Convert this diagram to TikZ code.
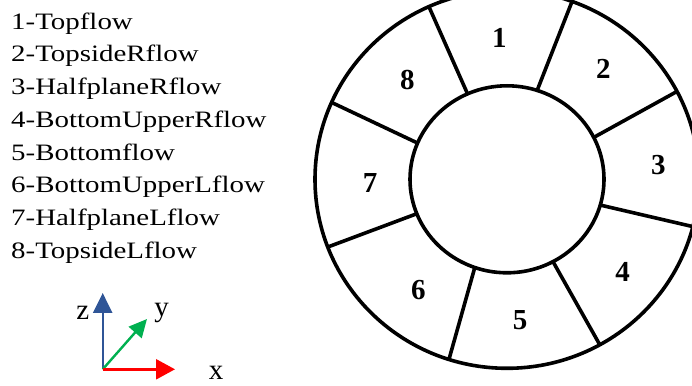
\documentclass[tikz,border=0pt]{standalone}
\usepackage{fontspec}
\setmainfont{Liberation Serif}
\newfontfamily\legendfont[FakeStretch=1.23]{Liberation Serif}
\usetikzlibrary{arrows.meta,calc}
\definecolor{zblue}{HTML}{2F5597}
\definecolor{ygreen}{HTML}{00B050}
\definecolor{xred}{HTML}{FF0000}
\begin{document}
\begin{tikzpicture}[x=1pt,y=1pt,
  ringline/.style={line width=3.6pt,black},
  seglabel/.style={font=\fontsize{29}{29}\selectfont\bfseries,inner sep=0pt},
  legendtext/.style={font=\legendfont\fontsize{23.5}{23.5}\selectfont,anchor=base west,inner sep=0pt},
  axislabel/.style={font=\fontsize{29}{29}\selectfont,inner sep=0pt},
  axisarrow/.style={line width=2.4pt}]
\useasboundingbox (0,0) rectangle (692,385);
\clip (0,0) rectangle (692,385);
% ring
\coordinate (c) at (507,205.7);
\draw[ringline] (c) ellipse [x radius=192, y radius=189];
\draw[ringline] (c) ellipse [x radius=97, y radius=93.5];
\foreach \a/\b [count=\i] in {114/114, 71.9/70.2, 26.6/27.7, -16/-14.5, -61.7/-61.1, 250.6/252.4, 201.6/201, 157.2/156}{
  \coordinate (in\i) at ($(c)+(\a:97 and 93.5)$);
  \coordinate (out\i) at ($(c)+(\b:192 and 189)$);
  \draw[ringline] (in\i) -- (out\i);
}
\node[seglabel] (s1) at (499.3,346.7) {1};
\node[seglabel] (s2) at (603.3,315.7) {2};
\node[seglabel] (s3) at (658.3,220) {3};
\node[seglabel] (s4) at (622.7,113.3) {4};
\node[seglabel] (s5) at (520,65) {5};
\node[seglabel] (s6) at (418.3,95) {6};
\node[seglabel] (s7) at (370,202.3) {7};
\node[seglabel] (s8) at (407.3,305) {8};
% legend
\node[legendtext] (l1) at (11,355.7) {1-Topflow};
\node[legendtext] (l2) at (11,323.0) {2-TopsideRflow};
\node[legendtext] (l3) at (11,290.3) {3-HalfplaneRflow};
\node[legendtext] (l4) at (11,257.6) {4-BottomUpperRflow};
\node[legendtext] (l5) at (11,224.9) {5-Bottomflow};
\node[legendtext] (l6) at (11,192.2) {6-BottomUpperLflow};
\node[legendtext] (l7) at (11,159.5) {7-HalfplaneLflow};
\node[legendtext] (l8) at (11,126.8) {8-TopsideLflow};
% axes
\coordinate (o) at (102.7,15.7);
\coordinate (zt) at (102.7,92);
\coordinate (xt) at (175,15.7);
\coordinate (yt) at (147,66);
\draw[axisarrow,zblue,-{Triangle[length=20pt,width=19pt]}] (o) -- (zt);
\draw[axisarrow,ygreen,-{Triangle[length=18pt,width=17pt]}] (o) -- (yt);
\draw[axisarrow,xred,-{Triangle[length=19pt,width=20pt]}] (o) -- (xt);
\node[axislabel] (zl) at (82.7,71.7) {z};
\node[axislabel] (yl) at (161.7,72) {y};
\node[axislabel] (xl) at (216,12) {x};
\end{tikzpicture}
\end{document}
